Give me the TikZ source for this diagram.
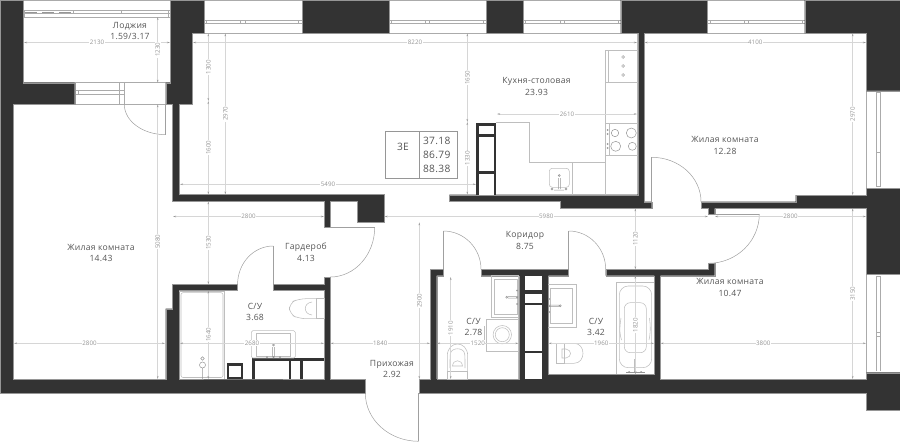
\documentclass[tikz,border=0pt]{standalone}
\usepackage{fontspec}
\setmainfont[LetterSpace=3]{Open Sans}
\newfontfamily\dimfont{Open Sans}
\definecolor{WallDark}{RGB}{51,51,51}
\definecolor{DimLine}{RGB}{214,214,214}
\definecolor{DimText}{RGB}{150,150,150}
\definecolor{FixLine}{RGB}{190,190,190}
\definecolor{EdgeGray}{RGB}{150,150,150}
\definecolor{LabelDark}{RGB}{85,85,85}
\usetikzlibrary{arrows.meta}

\begin{document}
\begin{tikzpicture}[
		x=1pt, y=-1pt,
		% walls
		wallPart/.style={fill=WallDark, draw=EdgeGray, line width=0.3pt},
		% thin lines of windows and fittings
		fixLine/.style={draw=FixLine, line width=0.55pt},
		winLine/.style={draw=EdgeGray!80, line width=0.5pt},
		doorLine/.style={draw=EdgeGray!90, line width=0.5pt},
		% dimension lines
		dimLine/.style={draw=DimLine, line width=0.5pt, {Stealth[length=3pt,width=1.5pt,color=DimText]}-{Stealth[length=3pt,width=1.5pt,color=DimText]}},
		dimLabel/.style={font=\dimfont\fontsize{6.2}{6.5}\selectfont, text=DimText, fill=white, inner sep=0.6pt},
		dimLabelV/.style={dimLabel, rotate=90},
		% room labels
		roomLabel/.style={font=\fontsize{8.6}{11.6}\selectfont, text=LabelDark, align=center, inner sep=0pt},
		infoLabel/.style={font=\fontsize{10.2}{12}\selectfont, text=LabelDark, inner sep=0pt},
		dotMark/.style={fill=EdgeGray, draw=none}
		]
		\useasboundingbox (0,0) rectangle (900,442);
		
		% windows on the top side
		\draw[winLine] (23,0.5) -- (900,0.5);
		\draw[winLine] (204,33.3) -- (804.7,33.3);
		\draw[winLine] (23,17) -- (170.5,17);
		\draw[winLine] (23,10.7) -- (170.5,10.7) (23,13) -- (170.5,13);
		\draw[draw=EdgeGray, line width=0.8pt, dash pattern=on 12pt off 5pt] (25,12) -- (72,12);
		\draw[winLine] (24.5,10.7) -- (24.5,17) (73,10.7) -- (73,13) (121,10.7) -- (121,13) (168,10.7) -- (168,17);
		\draw[winLine] (204,20) -- (804.7,20) (204,23.7) -- (804.7,23.7);
		\draw[winLine] (206,20) -- (206,23.7) (240.7,20) -- (240.7,23.7) (245,20) -- (245,23.7) (298.3,20) -- (298.3,23.7);
		\draw[winLine] (391,20) -- (391,23.7) (425.7,20) -- (425.7,23.7) (429.7,20) -- (429.7,23.7) (483,20) -- (483,23.7);
		\draw[winLine] (525.7,20) -- (525.7,23.7) (560.7,20) -- (560.7,23.7) (564.7,20) -- (564.7,23.7) (618.3,20) -- (618.3,23.7);
		\draw[winLine] (710,20) -- (710,23.7) (744.7,20) -- (744.7,23.7) (748.3,20) -- (748.3,23.7) (802.3,20) -- (802.3,23.7);
		
		% windows on the right side
		\draw[winLine] (866,90.7) -- (900,90.7) (866,188.3) -- (900,188.3) (866,90.7) -- (866,188.3);
		\draw[winLine] (876.7,92.3) -- (876.7,186.7) (880,92.3) -- (880,186.7);
		\draw[winLine] (876.7,92.3) -- (880,92.3) (876.7,152.3) -- (880,152.3) (876.7,186.7) -- (880,186.7);
		\draw[winLine] (866,274.3) -- (900,274.3) (866,372.7) -- (900,372.7) (866,274.3) -- (866,372.7);
		\draw[winLine] (876.7,276) -- (876.7,371) (880,276) -- (880,371);
		\draw[winLine] (876.7,276) -- (880,276) (876.7,332.7) -- (880,332.7) (876.7,336.7) -- (880,336.7);
		
		% loggia door and window
		\draw[winLine] (23,82.7) -- (170.5,82.7) (74.7,104.3) -- (165.7,104.3) (124.7,82.7) -- (124.7,104.3) (119.7,82.7) -- (119.7,104.3);
		\draw[winLine] (74.7,90.3) -- (124.7,90.3) (74.7,94.7) -- (124.7,94.7) (78.7,90.3) -- (78.7,94.7);
		
		% walls
		\path[wallPart] (0,0) -- (23,0) -- (23,82.7) -- (74.7,82.7) -- (74.7,104.3) -- (13.5,104.3) -- (13.5,379) -- (165.7,379) -- (165.7,308.7) -- (172.3,308.7) -- (172.3,284.3) -- (237.6,284.3) -- (237.6,290.5) -- (179.3,290.5) -- (179.3,379) -- (227.3,379) -- (242.7,379) -- (324,379) -- (324,290.5) -- (273.3,290.5) -- (273.3,284.3) -- (324,284.3) -- (324,277) -- (330.3,277) -- (330.3,379) -- (365.3,379) -- (365.3,393) -- (0,393) -- cycle;
		\path[wallPart] (170.5,0) -- (204,0) -- (204,33.3) -- (192.6,33.3) -- (192.6,104.3) -- (179.3,104.3) -- (179.3,194.5) -- (384.3,194.5) -- (384.3,222.3) -- (357.3,222.3) -- (357.3,201.3) -- (330.3,201.3) -- (330.3,227.3) -- (324,227.3) -- (324,201.3) -- (172.3,201.3) -- (172.3,104.3) -- (165.7,104.3) -- (165.7,82.7) -- (170.5,82.7) -- cycle;
		\path[wallPart] (301.7,0) rectangle (388.7,33.3);
		\path[wallPart] (485.7,0) rectangle (523.3,33.3);
		\path[wallPart] (620.7,0) -- (707.3,0) -- (707.3,33.3) -- (644.3,33.3) -- (644.3,201.7) -- (651.7,201.7) -- (651.7,208.3) -- (560.3,208.3) -- (560.3,201.3) -- (449.3,201.3) -- (449.3,194.7) -- (637.7,194.7) -- (637.7,33.3) -- (620.7,33.3) -- cycle;
		\path[wallPart] (804.7,0) -- (900,0) -- (900,90.7) -- (866,90.7) -- (866,33.3) -- (804.7,33.3) -- cycle;
		\path[wallPart] (701,201.7) -- (795.7,201.7) -- (795.7,195) -- (866,195) -- (866,188.3) -- (900,188.3) -- (900,274.3) -- (866,274.3) -- (866,208.3) -- (714.7,208.3) -- (714.7,214) -- (708.3,214) -- (708.3,208.3) -- (701,208.3) -- cycle;
		\path[wallPart] (430,269.3) -- (443.3,269.3) -- (443.3,275.7) -- (436.7,275.7) -- (436.7,379) -- (518.7,379) -- (518.7,275.7) -- (481,275.7) -- (481,269.3) -- (568.3,269.3) -- (568.3,275.7) -- (548.3,275.7) -- (548.3,374.3) -- (654.3,374.3) -- (654.3,275.7) -- (605.7,275.7) -- (605.7,269.3) -- (708.3,269.3) -- (708.3,263.3) -- (714.7,263.3) -- (714.7,275.7) -- (660.3,275.7) -- (660.3,379) -- (866,379) -- (866,372.7) -- (900,372.7) -- (900,410) -- (866,410) -- (866,393) -- (419,393) -- (419,379) -- (430,379) -- cycle;
		
		% shaft between the two bathrooms
		\fill[white] (525,275.7) rectangle (541.7,379);
		\fill[WallDark] (525,290.3) rectangle (541.7,293.7);
		\fill[WallDark] (525,302.7) rectangle (541.7,305.3);
		\fill[WallDark] (525,350.7) rectangle (541.7,353);
		
		% kitchen shaft
		\fill[WallDark] (476.3,122.7) rectangle (496.3,194.7);
		\fill[white] (479.3,125.7) rectangle (493.7,134.3);
		\fill[white] (479.3,137) rectangle (493.7,171);
		\fill[white] (479.3,173.7) rectangle (493.7,194.7);
		
		% bathroom boxes at the bottom
		\fill[WallDark] (227.3,363.3) rectangle (242.7,379);
		\fill[white] (229.3,366) rectangle (241,376.7);
		\fill[WallDark] (252,358) rectangle (324,379);
		\fill[white] (254.7,361) rectangle (288.7,379);
		\fill[white] (291.3,361) rectangle (300,379);
		\fill[white] (302.7,361) rectangle (324,379);
		
		% door swings
		\draw[doorLine] (165.7,104.3) -- (165.7,134.7);
		\draw[doorLine] (124.3,104.3) .. controls (124.3,121.1) and (142.8,134.7) .. (165.7,134.7);
		\draw[doorLine] (273.3,284.3) -- (273.3,246);
		\draw[doorLine] (273.3,246) .. controls (253.6,246) and (237.6,263.1) .. (237.6,284.3);
		\draw[doorLine] (330.3,227.3) -- (374.7,227.3);
		\draw[doorLine] (374.7,227.3) .. controls (374.7,254.7) and (354.8,277) .. (330.3,277);
		\draw[doorLine] (418.7,393) -- (418.7,441.3);
		\draw[doorLine] (365.3,393) .. controls (365.3,419.7) and (389.2,441.3) .. (418.7,441.3);
		\draw[doorLine] (443.3,269.3) -- (443.3,231);
		\draw[doorLine] (443.3,231) .. controls (464.1,231) and (481,248.1) .. (481,269.3);
		\draw[doorLine] (568.7,269.3) -- (568.7,231);
		\draw[doorLine] (568.7,231) .. controls (589.1,231) and (605.7,248.1) .. (605.7,269.3);
		\draw[doorLine] (651.7,201.7) -- (651.7,157.3);
		\draw[doorLine] (651.7,157.3) .. controls (678.9,157.3) and (701,177.2) .. (701,201.7);
		\draw[doorLine] (714.7,214) -- (759.3,214);
		\draw[doorLine] (759.3,214) .. controls (759.3,241.2) and (736.5,263.3) .. (708.3,263.3);
		
		% kitchen fittings
		\draw[fixLine] (496.3,122.7) -- (529,122.7) -- (529,162.3) -- (605.7,162.3);
		\draw[fixLine] (605.7,50) -- (605.7,194.7) (572.7,162.3) -- (572.7,194.7);
		\draw[fixLine] (605.7,50) -- (637.7,50) (605.7,82.3) -- (637.7,82.3) (608.3,50) -- (608.3,82.3);
		\draw[fixLine] (605.7,123.3) -- (637.7,123.3) (605.7,155.3) -- (637.7,155.3) (609.7,123.3) -- (609.7,155.3);
		\foreach \yy in {57,66,75}
			\draw[EdgeGray, line width=0.5pt] (623,\yy) circle[radius=1.4];
		\draw[EdgeGray, line width=0.5pt] (615,133) circle[radius=3.7] (631.3,133) circle[radius=5] (615.7,146.3) circle[radius=5] (632.3,146.3) circle[radius=4];
		\foreach \yy in {130,134,144,148}
			\fill[dotMark] (607.7,\yy) circle[radius=1];
		\draw[fixLine, rounded corners=3pt] (549.3,168.3) rectangle (569.3,187.3);
		\draw[EdgeGray, line width=0.5pt] (559.3,175.5) circle[radius=1] (558.3,178) -- (558.3,189) (560.3,178) -- (560.3,189);
		\draw[EdgeGray, line width=0.5pt] (552,189) circle[radius=1] (566,189) circle[radius=1] (554,190) -- (564,190);
		
		% fittings of the left bathroom
		\draw[fixLine] (179.3,291) -- (224.5,291) -- (224.5,379);
		\draw[fixLine, rounded corners=2pt] (181,292.7) rectangle (223,377.5);
		\draw[EdgeGray, line width=0.5pt] (202.5,365) circle[radius=3] (202.5,358.5) circle[radius=1.7] (202.5,368) -- (202.5,379);
		\draw[fixLine, rounded corners=1.5pt] (251.3,330.7) rectangle (295.3,358);
		\draw[fixLine] (256,333.3) rectangle (290.7,356);
		\draw[EdgeGray, line width=0.5pt] (273.5,345) circle[radius=1] (272.5,347) -- (272.5,357) (274.5,347) -- (274.5,357);
		\fill[dotMark] (267,357) circle[radius=1] (273.5,357) circle[radius=1] (280,357) circle[radius=1];
		\draw[fixLine, rounded corners=7pt] (316,298.7) -- (299,298.7) -- (289.3,303) -- (289.3,314) -- (299,318.7) -- (316,318.7);
		\draw[fixLine] (316,298.7) rectangle (324,318.7);
		\draw[fixLine] (312,302) .. controls (303,303) and (303,314) .. (312,315);
		
		% fittings of the middle bathroom
		\draw[fixLine] (491.3,275.7) rectangle (518.7,317.7);
		\draw[fixLine] (494,279) rectangle (517.3,314.3);
		\draw[EdgeGray, line width=0.5pt] (506.7,297.3) circle[radius=1] (508,296.5) -- (518,296.5) (508,298.2) -- (518,298.2);
		\fill[dotMark] (517,290.5) circle[radius=1] (517,297.5) circle[radius=1] (517,304) circle[radius=1];
		\draw[fixLine] (486,319) rectangle (518.7,351.7);
		\draw[fixLine] (502.3,334.7) circle[radius=9.2] (502.3,334.7) circle[radius=7];
		\draw[fixLine] (484.5,326) -- (484.5,345);
		\draw[fixLine] (447.3,371) -- (447.3,356) .. controls (447.3,340) and (467.7,340) .. (467.7,356) -- (467.7,371);
		\draw[fixLine] (447.3,371) rectangle (467.7,379);
		\draw[fixLine, rounded corners=3pt] (450,368) -- (450,357) .. controls (451,347) and (464,347) .. (465,357) -- (465,368);
		\draw[fixLine] (452.5,366) .. controls (453,359) and (462,359) .. (462.5,366) -- cycle;
		
		% fittings of the right bathroom
		\draw[fixLine] (548.3,284.3) -- (576,284.3) -- (576,327) -- (548.3,327);
		\draw[fixLine] (550,288.3) rectangle (572.7,323.7);
		\draw[EdgeGray, line width=0.5pt] (560.3,305.7) circle[radius=1] (549,305) -- (559,305) (549,306.5) -- (559,306.5);
		\fill[dotMark] (549,299) circle[radius=1] (549,306) circle[radius=1] (549,312) circle[radius=1];
		\draw[fixLine] (556.7,343.3) rectangle (564,363.3);
		\draw[fixLine] (564,343.3) -- (574,343.3) .. controls (586,343.3) and (586,363.3) .. (574,363.3) -- (564,363.3);
		\draw[fixLine] (562,349) -- (566,349) .. controls (572,350) and (572,357) .. (566,358) -- (562,358) -- cycle;
		\draw[fixLine] (616.7,374.3) -- (616.7,282.3) -- (654.3,282.3);
		\draw[fixLine, rounded corners=9pt] (619.3,286) rectangle (651.7,367.7);
		\draw[fixLine, rounded corners=6pt] (624.3,302.7) rectangle (646.3,352.7);
		\draw[fixLine] (621,318) .. controls (619,330) and (620,335) .. (621.5,340) (649.5,318) .. controls (651,330) and (650,335) .. (649,340);
		\draw[draw=FixLine, line width=1.8pt] (635.3,359) -- (635.3,372);
		\draw[EdgeGray, line width=0.5pt] (626,372) -- (645,372);
		\fill[dotMark] (629,372) circle[radius=1] (635.3,372) circle[radius=1.2] (641,372) circle[radius=1];
		
		% dimension lines, horizontal
		\draw[dimLine] (24,42.5) -- node[dimLabel] (dimLoggiaW) {2130} (170,42.5);
		\draw[dimLine] (193,42.5) -- node[dimLabel] (dimKitchenW) {8220} (637,42.5);
		\draw[dimLine] (644.5,42.5) -- node[dimLabel] (dimRoomW) {4100} (866,42.5);
		\draw[dimLine] (497,114) -- node[dimLabel] (dimKitchenS) {2610} (637,114);
		\draw[dimLine] (180,184.3) -- node[dimLabel] (dimHallW) {5490} (476,184.3);
		\draw[dimLine] (173,216.5) -- node[dimLabel] (dimWardrobeW) {2800} (324,216.5);
		\draw[dimLine] (384.5,216.5) -- node[dimLabel] (dimCorridorW) {5980} (708,216.5);
		\draw[dimLine] (715,216.5) -- node[dimLabel] (dimRoomS) {2800} (866,216.5);
		\draw[dimLine] (14,343.3) -- node[dimLabel] (dimLivingW) {2800} (165,343.3);
		\draw[dimLine] (180,343.3) -- node[dimLabel] (dimBathA) {2680} (324,343.3);
		\draw[dimLine] (330.5,343.3) -- node[dimLabel] (dimEntryW) {1840} (430,343.3);
		\draw[dimLine] (437,343.3) -- node[dimLabel] (dimBathB) {1520} (518.5,343.3);
		\draw[dimLine] (548.5,343.3) -- node[dimLabel] (dimBathC) {1960} (654,343.3);
		\draw[dimLine] (660.5,343.3) -- node[dimLabel] (dimRoomB) {3800} (866,343.3);
		
		% dimension lines, vertical
		\draw[dimLine] (157.7,17) -- node[dimLabelV] (dimLoggiaH) {1230} (157.7,82.7);
		\draw[dimLine] (157.7,104.3) -- node[dimLabelV] (dimLivingH) {5080} (157.7,379);
		\draw[dimLine] (208.3,33.3) -- node[dimLabelV] (dimHallA) {1300} (208.3,101);
		\draw[dimLine] (208.3,101) -- node[dimLabelV] (dimHallB) {1600} (208.3,194.5);
		\draw[dimLine] (208.3,201.3) -- node[dimLabelV] (dimHallC) {1530} (208.3,284.3);
		\draw[dimLine] (208.3,290.5) -- node[dimLabelV] (dimBathH) {1640} (208.3,379);
		\draw[dimLine] (225.3,33.3) -- node[dimLabelV] (dimKitchenH) {2970} (225.3,194.5);
		\draw[dimLine] (467.3,33.3) -- node[dimLabelV] (dimUpper) {1650} (467.3,122);
		\draw[dimLine] (467.3,122) -- node[dimLabelV] (dimLower) {1330} (467.3,194.7);
		\draw[dimLine] (852.7,33.3) -- node[dimLabelV] (dimRoomH) {2970} (852.7,195);
		\draw[dimLine] (852.7,208.3) -- node[dimLabelV] (dimRoomBH) {3150} (852.7,379);
		\draw[dimLine] (635.3,208.3) -- node[dimLabelV] (dimCorridorH) {1120} (635.3,269.3);
		\draw[dimLine] (635.3,275.7) -- node[dimLabelV] (dimTubH) {1820} (635.3,374.3);
		\draw[dimLine] (419.3,222.3) -- node[dimLabelV] (dimEntryH) {2900} (419.3,379);
		\draw[dimLine] (450.7,277) -- node[dimLabelV] (dimBathBH) {1910} (450.7,379);
		
		% info box
		\draw[draw=EdgeGray, line width=0.6pt] (385.3,131.7) rectangle (457.7,178.7);
		\draw[draw=EdgeGray, line width=0.6pt] (419.3,131.7) -- (419.3,178.7);
		\node[infoLabel] (flatType) at (403,146.5) {3E};
		\node[infoLabel] (areaLive) at (436.7,140.7) {37.18};
		\node[infoLabel] (areaFlat) at (436.7,155) {86.79};
		\node[infoLabel] (areaFull) at (436.7,169.3) {88.38};
		
		% room labels
		\node[roomLabel] (loggia) at (130,30.8) {Лоджия\\1.59/3.17};
		\node[roomLabel] (kitchen) at (536.5,86.6) {Кухня-столовая\\23.93};
		\node[roomLabel] (roomA) at (725,145.5) {Жилая комната\\12.28};
		\node[roomLabel] (roomB) at (101,253) {Жилая комната\\14.43};
		\node[roomLabel] (wardrobe) at (306,252) {Гардероб\\4.13};
		\node[roomLabel] (bathA) at (255,312) {С/У\\3.68};
		\node[roomLabel] (corridor) at (525,240.7) {Коридор\\8.75};
		\node[roomLabel] (bathB) at (473.5,327) {С/У\\2.78};
		\node[roomLabel] (bathC) at (596,327) {С/У\\3.42};
		\node[roomLabel] (roomC) at (730,287.7) {Жилая комната\\10.47};
		\node[roomLabel] (entry) at (392,369) {Прихожая\\2.92};
		
	\end{tikzpicture}
\end{document}
